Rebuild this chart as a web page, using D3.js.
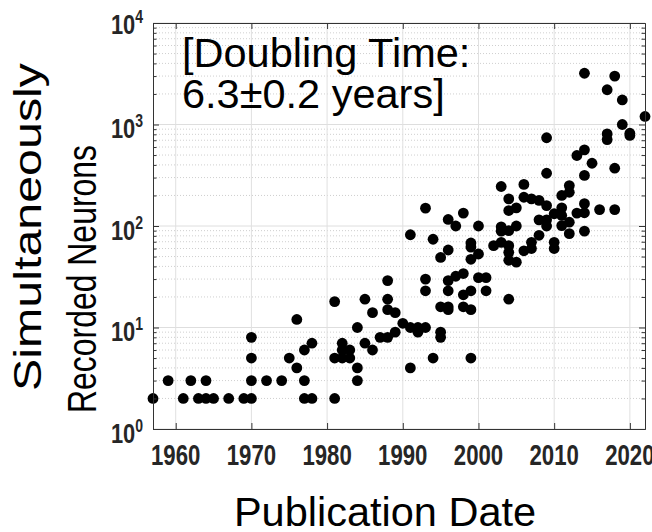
<!DOCTYPE html>
<html>
<head>
<meta charset="utf-8">
<script src="https://cdn.jsdelivr.net/npm/d3@7"></script>
<style>
  body { margin: 0; background: #fff; }
  svg { display: block; font-family: "Liberation Sans", Arial, sans-serif; }
</style>
</head>
<body>
<svg id="chart" width="652" height="532"></svg>
<script>
// publication year of each recording
var years = [
  1957, 1959, 1961, 1962, 1963, 1964, 1964, 1965, 1967, 1969,
  1970, 1970, 1970, 1970, 1972, 1974, 1975, 1976, 1976, 1977,
  1977, 1977, 1978, 1978, 1981, 1981, 1981, 1982, 1982, 1982,
  1983, 1983, 1984, 1984, 1984, 1985, 1985, 1986, 1986, 1987,
  1988, 1988, 1988, 1988, 1989, 1989, 1990, 1991, 1991, 1991,
  1992, 1992, 1993, 1993, 1993, 1993, 1994, 1994, 1995, 1995,
  1995, 1995, 1996, 1996, 1996, 1996, 1996, 1996, 1997, 1997,
  1998, 1998, 1998, 1998, 1999, 1999, 1999, 1999, 1999, 1999,
  2000, 2000, 2000, 2001, 2001, 2002, 2003, 2003, 2003, 2003,
  2004, 2004, 2004, 2004, 2004, 2004, 2004, 2005, 2005, 2005,
  2006, 2006, 2006, 2007, 2007, 2007, 2008, 2008, 2008, 2009,
  2009, 2009, 2009, 2009, 2010, 2010, 2010, 2011, 2011, 2011,
  2011, 2012, 2012, 2012, 2012, 2013, 2013, 2014, 2014, 2014,
  2014, 2014, 2014, 2015, 2016, 2017, 2017, 2017, 2018, 2018,
  2018, 2019, 2019, 2020, 2020, 2022
];
// number of simultaneously recorded neurons
var neurons = [
  2, 3, 2, 3, 2, 3, 2, 2, 2, 2,
  2, 3, 5, 8, 3, 3, 5, 12, 4, 6,
  3, 2, 7, 2, 18, 5, 2, 7, 6, 5,
  6, 5, 10, 4, 3, 19, 7, 14, 6, 8,
  29, 19, 15, 8, 14, 9, 11, 82, 10, 4,
  10, 9, 150, 30, 23, 10, 74, 5, 49, 16,
  9, 8, 116, 58, 29, 23, 16, 15, 100, 32,
  134, 34, 21, 16, 68, 62, 47, 23, 15, 5,
  100, 53, 31, 31, 23, 64, 245, 98, 89, 69,
  185, 142, 90, 64, 55, 46, 19, 151, 100, 44,
  257, 192, 57, 185, 69, 60, 179, 115, 81, 740,
  331, 159, 115, 100, 132, 69, 60, 200, 151, 127,
  101, 250, 215, 109, 84, 495, 134, 3200, 563, 315,
  166, 135, 89, 415, 145, 2200, 808, 710, 3000, 371,
  145, 1745, 1000, 820, 780, 1200
];
var xTicks = [1960, 1970, 1980, 1990, 2000, 2010, 2020];
var yTicks = [1, 10, 100, 1000, 10000];
var yExponents = ["0", "1", "2", "3", "4"];

var svg = d3.select("#chart");
var plotLeft = 153, plotRight = 645, plotTop = 23, plotBottom = 429;

var x = d3.scaleLinear().domain([1957, 2022]).range([plotLeft, plotRight]);
var y = d3.scaleLog().domain([1, 10000]).range([plotBottom, plotTop]);

// minor log ticks 2..9 of every decade
var yMinor = y.ticks().filter(function(d) { return yTicks.indexOf(d) < 0; });

// grid
var grid = svg.append("g");
grid.selectAll(".ygm").data(yMinor).enter().append("line")
  .attr("x1", plotLeft).attr("x2", plotRight)
  .attr("y1", function(d) { return y(d); }).attr("y2", function(d) { return y(d); })
  .attr("stroke", "#cfcfcf").attr("stroke-dasharray", "1,2");
grid.selectAll(".ygM").data(yTicks).enter().append("line")
  .attr("x1", plotLeft).attr("x2", plotRight)
  .attr("y1", function(d) { return y(d); }).attr("y2", function(d) { return y(d); })
  .attr("stroke", "#dedede");
grid.selectAll(".xg").data(xTicks).enter().append("line")
  .attr("y1", plotTop).attr("y2", plotBottom)
  .attr("x1", function(d) { return x(d); }).attr("x2", function(d) { return x(d); })
  .attr("stroke", "#e0e0e0");

// dots
svg.append("g").selectAll("circle")
  .data(years)
  .enter().append("circle")
  .attr("cx", function(d) { return x(d); })
  .attr("cy", function(d, i) { return y(neurons[i]); })
  .attr("r", 5.4)
  .attr("fill", "#000");

// axes box with inward ticks
function styleAxis(g) {
  g.selectAll("path").attr("stroke", "#333");
  g.selectAll("line").attr("stroke", "#333");
  g.selectAll("text").remove();
}
svg.append("g").attr("transform", "translate(" + plotLeft + ",0)")
  .call(d3.axisLeft(y).tickValues(yTicks).tickSize(-6).tickSizeOuter(0)).call(styleAxis);
svg.append("g").attr("transform", "translate(" + plotLeft + ",0)")
  .call(d3.axisLeft(y).tickValues(yMinor).tickSize(-3.5).tickSizeOuter(0)).call(styleAxis);
svg.append("g").attr("transform", "translate(" + plotRight + ",0)")
  .call(d3.axisRight(y).tickValues(yTicks).tickSize(-6).tickSizeOuter(0)).call(styleAxis);
svg.append("g").attr("transform", "translate(" + plotRight + ",0)")
  .call(d3.axisRight(y).tickValues(yMinor).tickSize(-3.5).tickSizeOuter(0)).call(styleAxis);
svg.append("g").attr("transform", "translate(0," + plotBottom + ")")
  .call(d3.axisBottom(x).tickValues(xTicks).tickSize(-6).tickSizeOuter(0)).call(styleAxis);
svg.append("g").attr("transform", "translate(0," + plotTop + ")")
  .call(d3.axisTop(x).tickValues(xTicks).tickSize(-6).tickSizeOuter(0)).call(styleAxis);

// tick labels (bold, condensed)
svg.append("g").selectAll("text").data(xTicks).enter().append("text")
  .attr("transform", function(d) { return "translate(" + x(d) + ",465) scale(0.74,1)"; })
  .attr("text-anchor", "middle")
  .attr("font-size", 30).attr("font-weight", "bold").attr("fill", "#262626")
  .text(function(d) { return d; });

var yl = svg.append("g").selectAll("text").data(yTicks).enter().append("text")
  .attr("transform", function(d, i) {
    var yy = i == 4 ? y(d) + 11 : y(d) + 13.5;
    return "translate(143," + yy + ") scale(0.78,1)";
  })
  .attr("text-anchor", "end")
  .attr("font-size", 28).attr("font-weight", "bold").attr("fill", "#262626");
yl.append("tspan").text("10");
yl.append("tspan").attr("dy", -11).attr("font-size", 18)
  .text(function(d, i) { return yExponents[i]; });

// axis titles
svg.append("text")
  .attr("transform", "translate(41,227) rotate(-90)")
  .attr("text-anchor", "middle").attr("font-size", 39)
  .attr("textLength", 328).attr("lengthAdjust", "spacingAndGlyphs")
  .text("Simultaneously");
svg.append("text")
  .attr("transform", "translate(96,279) rotate(-90)")
  .attr("text-anchor", "middle").attr("font-size", 40)
  .attr("textLength", 268).attr("lengthAdjust", "spacingAndGlyphs")
  .text("Recorded Neurons");
svg.append("text")
  .attr("x", 385).attr("y", 526)
  .attr("text-anchor", "middle").attr("font-size", 41.5)
  .text("Publication Date");

// annotation
svg.append("text").attr("x", 182).attr("y", 67).attr("font-size", 41.5).text("[Doubling Time:");
svg.append("text").attr("x", 182).attr("y", 108).attr("font-size", 41.5).text("6.3\u00b10.2 years]");
</script>
</body>
</html>
